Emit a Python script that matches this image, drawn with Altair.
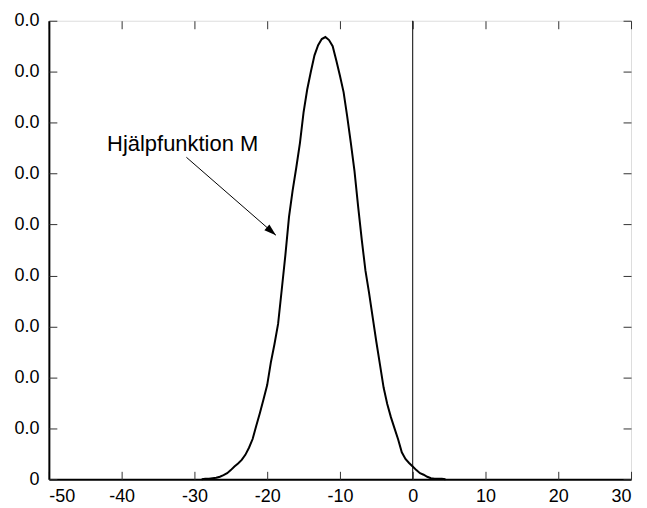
import altair as alt
import pandas as pd

# Curve "Hjälpfunktion M"
x_pos = [-29.0, -28.5, -28.0, -27.5, -27.0, -26.5, -26.0, -25.5, -25.0, -24.5,
         -24.0, -23.5, -23.0, -22.5, -22.0, -21.5, -21.0, -20.5, -20.0, -19.5,
         -19.0, -18.5, -18.0, -17.5, -17.0, -16.5, -16.0, -15.5, -15.0, -14.5,
         -14.0, -13.5, -13.0, -12.5, -12.0, -11.5, -11.0, -10.5, -10.0, -9.5,
         -9.0, -8.5, -8.0, -7.5, -7.0, -6.5, -6.0, -5.5, -5.0, -4.5,
         -4.0, -3.5, -3.0, -2.5, -2.0, -1.5, -1.0, -0.5, 0.0, 0.5,
         1.0, 1.5, 2.0, 2.5, 3.0, 3.5, 4.0, 4.5]
m_vals = [0.0, 0.00005, 0.00005, 0.0001, 0.00015, 0.00025, 0.0004, 0.0006, 0.0009, 0.00125,
          0.00155, 0.0019, 0.0024, 0.0031, 0.00395, 0.00525, 0.0065, 0.00785, 0.00925, 0.01145,
          0.01325, 0.01525, 0.0186, 0.0220, 0.02575, 0.02835, 0.0306, 0.0330, 0.0360, 0.03825,
          0.0400, 0.0416, 0.0426, 0.0432, 0.0434, 0.0431, 0.0425, 0.0411, 0.0396, 0.0380,
          0.0356, 0.0330, 0.03025, 0.02675, 0.0235, 0.0205, 0.0183, 0.0159, 0.0135, 0.01125,
          0.0090, 0.0074, 0.0061, 0.0050, 0.0039, 0.00265, 0.0020, 0.0016, 0.00125, 0.0009,
          0.0006, 0.00045, 0.00025, 0.0001, 0.00005, 0.00005, 0.00005, 0.0]

x_ticks = [-50, -40, -30, -20, -10, 0, 10, 20, 30]
y_ticks = [0, 0.005, 0.01, 0.015, 0.02, 0.025, 0.03, 0.035, 0.04, 0.045]

zero_line_x = [0]

label_text = ["Hjälpfunktion M"]
label_x = [-42.0]
label_y = [0.03295]

arrow_x1 = [-31.1]
arrow_y1 = [0.0316]
arrow_x2 = [-18.8]
arrow_y2 = [0.02395]

W, H = 584, 460
FONT = "Liberation Sans"
TICK = 8

xscale = alt.Scale(domain=[-50, 30], nice=False, zero=False)
yscale = alt.Scale(domain=[0, 0.045], nice=False)

curve_df = pd.DataFrame({"x": x_pos, "m": m_vals})
xt_df = pd.DataFrame({"tx": x_ticks})
yt_df = pd.DataFrame({"ty": y_ticks})
zero_df = pd.DataFrame({"zx": zero_line_x})
lab_df = pd.DataFrame({"lx": label_x, "ly": label_y, "t": label_text})
arr_df = pd.DataFrame({"ax": arrow_x1, "ay": arrow_y1, "ax2": arrow_x2, "ay2": arrow_y2})

xaxis = alt.Axis(orient="bottom", values=x_ticks, ticks=False, domainWidth=2, domainColor="black",
                 labelExpr="'' + datum.value",
                 labelFont=FONT, labelFontSize=18, labelColor="black", labelPadding=8,
                 grid=False, title=None)
yaxis = alt.Axis(orient="left", values=y_ticks, ticks=False, domainWidth=2, domainColor="black",
                 labelExpr="datum.value == 0 ? '0' : format(datum.value, '.1f')",
                 labelFont=FONT, labelFontSize=18, labelColor="black", labelPadding=10,
                 grid=False, title=None)


def tick_axis(orient, values):
    # inward ticks: an extra label-less axis moved into the plot by the tick length
    return alt.Axis(orient=orient, values=values, offset=-TICK, tickSize=TICK,
                    tickColor="#333333", tickWidth=1, labels=False, domain=False,
                    grid=False, title=None)


curve = alt.Chart(curve_df).mark_line(color="black", strokeWidth=2).encode(
    x=alt.X("x:Q", scale=xscale, axis=xaxis),
    y=alt.Y("m:Q", scale=yscale, axis=yaxis),
)

x_tick_layer_b = alt.Chart(xt_df).mark_point(opacity=0).encode(
    x=alt.X("tx:Q", scale=xscale, axis=tick_axis("bottom", x_ticks)), y=alt.value(0))
x_tick_layer_t = alt.Chart(xt_df).mark_point(opacity=0).encode(
    x=alt.X("tx:Q", scale=xscale, axis=tick_axis("top", x_ticks)), y=alt.value(0))
y_tick_layer_l = alt.Chart(yt_df).mark_point(opacity=0).encode(
    y=alt.Y("ty:Q", scale=yscale, axis=tick_axis("left", y_ticks)), x=alt.value(0))
y_tick_layer_r = alt.Chart(yt_df).mark_point(opacity=0).encode(
    y=alt.Y("ty:Q", scale=yscale, axis=tick_axis("right", y_ticks)), x=alt.value(0))

zero_rule = alt.Chart(zero_df).mark_rule(color="black", strokeWidth=1).encode(
    x=alt.X("zx:Q", scale=xscale, axis=None),
    y=alt.value(0), y2=alt.value(H),
)

label = alt.Chart(lab_df).mark_text(align="left", baseline="middle", font=FONT,
                                    fontSize=22, color="black").encode(
    x=alt.X("lx:Q", scale=xscale, axis=None),
    y=alt.Y("ly:Q", scale=yscale, axis=None), text="t:N")

arrow_line = alt.Chart(arr_df).mark_rule(color="black", strokeWidth=1).encode(
    x=alt.X("ax:Q", scale=xscale, axis=None), y=alt.Y("ay:Q", scale=yscale, axis=None),
    x2="ax2:Q", y2="ay2:Q")

arrow_head = alt.Chart(arr_df).mark_point(
    shape="M0,0L-1,-0.32L-1,0.32Z", filled=True, color="black", opacity=1,
    size=576, angle=41, strokeWidth=0).encode(
    x=alt.X("ax2:Q", scale=xscale, axis=None), y=alt.Y("ay2:Q", scale=yscale, axis=None))

chart = alt.layer(
    curve, x_tick_layer_b, x_tick_layer_t, y_tick_layer_l, y_tick_layer_r,
    zero_rule, label, arrow_line, arrow_head
).resolve_axis(x="independent", y="independent").properties(
    width=W, height=H, padding={"left": 5, "top": 3, "right": 5, "bottom": 0}
).configure_view(stroke="black", strokeWidth=1).configure(background="white")

chart.save("out.html", embed_options={"renderer": "svg", "actions": False})
